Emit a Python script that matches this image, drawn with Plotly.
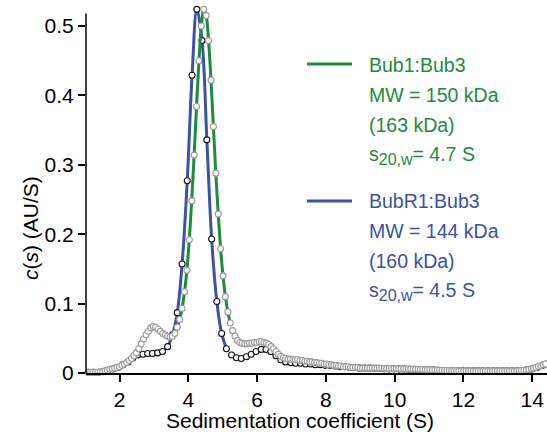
import plotly.graph_objects as go

# Bub1:Bub3 c(s) distribution (grey open circles)
gray_s = [1.02,1.09,1.16,1.23,1.30,1.37,1.44,1.51,1.58,1.65,1.72,1.79,1.86,1.93,
          2.00,2.07,2.14,2.21,2.28,2.35,2.42,2.49,2.56,2.63,2.70,2.77,2.84,2.91,
          2.98,3.05,3.12,3.19,3.26,3.33,3.40,3.47,3.54,3.61,3.68,3.75,3.82,3.89,
          3.96,4.03,4.10,4.17,4.24,4.31,4.38,4.45,4.52,4.59,4.66,4.73,4.80,4.87,
          4.94,5.01,5.08,5.15,5.22,5.29,5.36,5.43,5.50,5.57,5.64,5.71,5.78,5.85,
          5.92,5.99,6.06,6.13,6.20,6.27,6.34,6.41,6.48,6.55,6.62,6.69,6.76,6.83,
          6.90,6.97,7.04,7.11,7.18,7.25,7.32,7.39,7.46,7.53,7.60,7.67,7.74,7.81,
          7.88,7.95,8.02,8.09,8.16,8.23,8.30,8.37,8.44,8.51,8.58,8.65,8.72,8.79,
          8.86,8.93,9.00,9.07,9.14,9.21,9.28,9.35,9.42,9.49,9.56,9.63,9.70,9.77,
          9.84,9.91,9.98,10.05,10.12,10.19,10.26,10.33,10.40,10.47,10.54,10.61,10.68,10.75,
          10.82,10.89,10.96,11.03,11.10,11.17,11.24,11.31,11.38,11.45,11.52,11.59,11.66,11.73,
          11.80,11.87,11.94,12.01,12.08,12.15,12.22,12.29,12.36,12.43,12.50,12.57,12.64,12.71,
          12.78,12.85,12.92,12.99,13.06,13.13,13.20,13.27,13.34,13.41,13.48,13.55,13.62,13.69,
          13.76,13.83,13.90,13.97,14.04,14.11,14.18,14.25,14.32,14.39]
gray_c = [0.001,0.001,0.001,0.001,0.001,0.001,0.0015,0.002,0.003,0.004,0.005,0.006,0.007,0.008,
          0.009,0.011,0.013,0.015,0.018,0.021,0.025,0.029,0.035,0.042,0.049,0.055,0.060,0.065,
          0.067,0.066,0.063,0.060,0.057,0.055,0.053,0.052,0.053,0.057,0.066,0.077,0.093,0.117,
          0.148,0.192,0.248,0.314,0.384,0.450,0.500,0.524,0.515,0.479,0.422,0.355,0.288,0.229,
          0.179,0.140,0.110,0.088,0.072,0.061,0.053,0.047,0.044,0.043,0.042,0.042,0.043,0.043,
          0.044,0.044,0.045,0.045,0.044,0.043,0.041,0.038,0.035,0.031,0.027,0.024,0.022,0.021,
          0.020,0.020,0.019,0.019,0.019,0.018,0.018,0.017,0.017,0.016,0.016,0.015,0.015,0.014,
          0.014,0.013,0.013,0.012,0.012,0.011,0.011,0.010,0.010,0.009,0.009,0.009,0.008,0.008,
          0.008,0.008,0.007,0.007,0.007,0.007,0.007,0.007,0.007,0.007,0.007,0.0068,0.0067,0.0066,
          0.0065,0.0064,0.0063,0.0062,0.0061,0.006,0.006,0.0058,0.0057,0.0056,0.0055,0.0054,0.0053,0.0052,
          0.005,0.0049,0.0048,0.0046,0.0045,0.0043,0.0042,0.004,0.0039,0.0037,0.0036,0.0035,0.0034,0.0033,
          0.0032,0.0031,0.003,0.003,0.003,0.003,0.003,0.003,0.003,0.003,0.003,0.003,0.003,0.003,
          0.003,0.003,0.003,0.003,0.003,0.003,0.003,0.003,0.003,0.003,0.003,0.0031,0.0033,0.0036,
          0.004,0.0045,0.005,0.006,0.007,0.008,0.0093,0.0105,0.012,0.013]

# BubR1:Bub3 c(s) distribution (black open circles)
black_s = [1.10,1.24,1.39,1.53,1.67,1.82,1.96,2.10,2.25,2.39,
           2.53,2.68,2.82,2.96,3.11,3.25,3.40,3.54,3.68,3.82,
           3.97,4.11,4.25,4.40,4.54,4.68,4.83,4.97,5.11,5.26,
           5.40,5.54,5.69,5.83,5.97,6.12,6.26,6.40,6.55,6.69,
           6.83,6.98,7.12,7.26,7.41,7.55,7.69,7.84,7.98,8.12,
           8.27,8.41,8.55,8.70,8.84,8.98,9.12,9.27,9.41,9.55,
           9.70,9.84,9.98,10.13,10.27,10.41,10.56,10.70,10.84,10.99,
           11.13,11.27,11.42,11.56,11.70,11.85,11.99,12.13,12.28,12.42,
           12.56,12.71,12.85,12.99,13.14,13.28,13.42,13.57,13.71,13.85,
           13.99,14.14,14.28,14.42]
black_c = [0.001,0.001,0.001,0.002,0.004,0.006,0.008,0.012,0.016,0.022,
           0.026,0.027,0.028,0.028,0.029,0.031,0.038,0.055,0.087,0.157,
           0.277,0.429,0.524,0.479,0.336,0.193,0.103,0.057,0.035,0.026,
           0.022,0.021,0.0235,0.027,0.031,0.034,0.034,0.031,0.025,0.019,
           0.016,0.015,0.014,0.014,0.013,0.013,0.012,0.012,0.011,0.011,
           0.010,0.009,0.009,0.008,0.008,0.007,0.007,0.007,0.0065,0.0065,
           0.0062,0.006,0.006,0.0058,0.0056,0.0054,0.0052,0.005,0.0048,0.0045,
           0.0043,0.004,0.0037,0.0035,0.0033,0.0031,0.003,0.003,0.003,0.003,
           0.003,0.003,0.003,0.003,0.003,0.003,0.003,0.0032,0.0037,0.0045,
           0.0058,0.008,0.0105,0.013]

# s-range of the main peak traced by the coloured lines
green_span = (3.60, 5.23)
blue_span = (3.39, 5.12)

SUB = "<sub><span style='font-size:16px'>20,w</span></sub>"
green_text = ["Bub1:Bub3", "MW = 150 kDa", "(163 kDa)", "s" + SUB + "= 4.7 S"]
blue_text = ["BubR1:Bub3", "MW = 144 kDa", "(160 kDa)", "s" + SUB + "= 4.5 S"]

GREEN = "#1d8c3e"
BLUE = "#3a53a4"
FONT = "Liberation Sans, Arial, sans-serif"

def span(xs, ys, lo, hi):
    pts = [(x, y) for x, y in zip(xs, ys) if lo <= x <= hi]
    return [p[0] for p in pts], [p[1] for p in pts]

fig = go.Figure()
bx, by = span(black_s, black_c, *blue_span)
fig.add_trace(go.Scatter(x=bx, y=by, mode="lines", line=dict(color=BLUE, width=3, shape="spline"),
                         hoverinfo="skip"))
fig.add_trace(go.Scatter(x=black_s, y=black_c, mode="markers", cliponaxis=False,
                         marker=dict(symbol="circle", size=6, color="white",
                                     line=dict(color="#111111", width=1.1))))
gx, gy = span(gray_s, gray_c, *green_span)
fig.add_trace(go.Scatter(x=gx, y=gy, mode="lines", line=dict(color=GREEN, width=3, shape="spline"),
                         hoverinfo="skip"))
fig.add_trace(go.Scatter(x=gray_s, y=gray_c, mode="markers", cliponaxis=False,
                         marker=dict(symbol="circle", size=6, color="white",
                                     line=dict(color="#9a9a9a", width=1.1))))

W, H = 547, 435
L, R, T, B = 86, 0, 0, 62
pw, ph = W - L - R, H - T - B

def px(xp):
    return (xp - L) / pw

def py(yp):
    return (H - B - yp) / ph

annotations = []
for i, t in enumerate(green_text):
    annotations.append(dict(x=px(367), y=py(65 + 30 * i), xref="paper", yref="paper", text=t,
                            showarrow=False, xanchor="left", yanchor="middle",
                            font=dict(family=FONT, size=19.5, color=GREEN)))
for i, t in enumerate(blue_text):
    annotations.append(dict(x=px(367), y=py(201 + 30 * i), xref="paper", yref="paper", text=t,
                            showarrow=False, xanchor="left", yanchor="middle",
                            font=dict(family=FONT, size=19.5, color=BLUE)))
annotations.append(dict(x=px(300), y=py(420), xref="paper", yref="paper",
                        text="Sedimentation coefficient (S)", showarrow=False,
                        xanchor="center", yanchor="middle",
                        font=dict(family=FONT, size=21, color="black")))
annotations.append(dict(x=px(30), y=py(228), xref="paper", yref="paper",
                        text="<i>c</i>(<i>s</i>) (AU/S)", showarrow=False, textangle=-90,
                        xanchor="center", yanchor="middle",
                        font=dict(family=FONT, size=21, color="black")))

shapes = [
    dict(type="line", xref="paper", yref="paper", x0=px(307), x1=px(352), y0=py(64), y1=py(64),
         line=dict(color=GREEN, width=3)),
    dict(type="line", xref="paper", yref="paper", x0=px(307), x1=px(352), y0=py(201), y1=py(201),
         line=dict(color=BLUE, width=3)),
    dict(type="line", xref="paper", yref="y", x0=0, x1=0, y0=0, y1=0.518,
         line=dict(color="black", width=1.5)),
]

fig.update_layout(
    width=W, height=H, margin=dict(l=L, r=R, t=T, b=B, pad=0),
    paper_bgcolor="white", plot_bgcolor="white", showlegend=False,
    font=dict(family=FONT, size=21, color="black"),
    annotations=annotations, shapes=shapes,
)
fig.update_xaxes(range=[1.026, 14.43], tick0=0, dtick=2, ticks="outside", ticklen=7,
                 tickwidth=1.5, tickcolor="black", showline=True, linecolor="black", linewidth=1.5,
                 showgrid=False, zeroline=False, tickfont=dict(family=FONT, size=21))
fig.update_yaxes(range=[0, 0.5375], tickvals=[0, 0.1, 0.2, 0.3, 0.4, 0.5],
                 ticktext=["0", "0.1", "0.2", "0.3", "0.4", "0.5"], ticks="outside", ticklen=7,
                 tickwidth=1.5, tickcolor="black", showline=False, showgrid=False, zeroline=False,
                 tickfont=dict(family=FONT, size=21))

fig.write_html("out.html")
